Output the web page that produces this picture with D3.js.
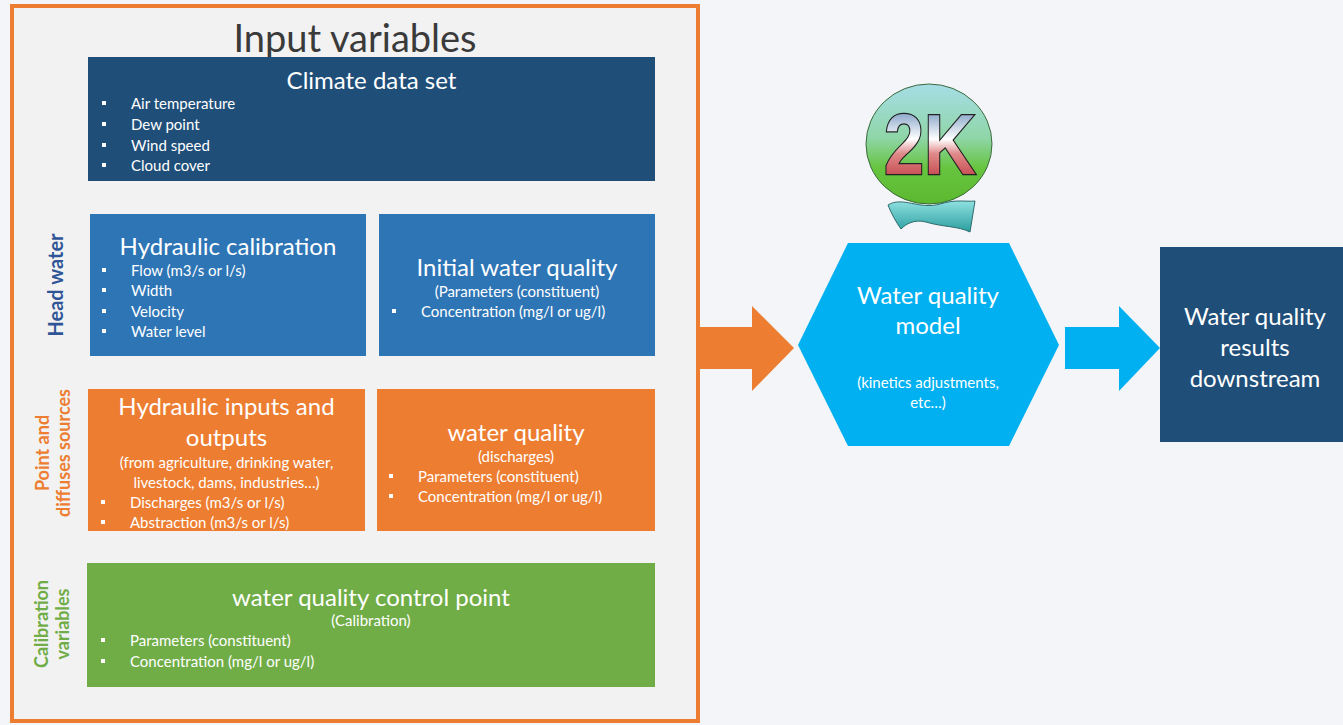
<!DOCTYPE html>
<html>
<head>
<meta charset="utf-8">
<script src="https://d3js.org/d3.v7.min.js"></script>
<style>
  body { margin: 0; background: #f3f5f9; }
  svg { display: block; font-family: Lato, "Open Sans", sans-serif; }
</style>
</head>
<body>
<div id="viz"></div>
<script>
// ---- text content of the diagram ----
const mainTitle = "Input variables";
const climateTitle = ["Climate data set"];
const climateItems = ["Air temperature", "Dew point", "Wind speed", "Cloud cover"];
const hydCalTitle = ["Hydraulic calibration"];
const hydCalItems = ["Flow (m3/s or l/s)", "Width", "Velocity", "Water level"];
const initWqTitle = ["Initial water quality"];
const initWqSub = ["(Parameters (constituent)"];
const initWqItems = ["Concentration (mg/l or ug/l)"];
const hydInTitle = ["Hydraulic inputs and", "outputs"];
const hydInSub = ["(from agriculture, drinking water,", "livestock, dams, industries…)"];
const hydInItems = ["Discharges (m3/s or l/s)", "Abstraction (m3/s or l/s)"];
const dischTitle = ["water quality"];
const dischSub = ["(discharges)"];
const dischItems = ["Parameters (constituent)", "Concentration (mg/l or ug/l)"];
const ctrlTitle = ["water quality control point"];
const ctrlSub = ["(Calibration)"];
const ctrlItems = ["Parameters (constituent)", "Concentration (mg/l or ug/l)"];
const modelTitle = ["Water quality", "model"];
const modelSub = ["(kinetics adjustments,", "etc…)"];
const resultTitle = ["Water quality", "results", "downstream"];
const sideLabels = [["Head water"], ["Point and", "diffuses sources"], ["Calibration", "variables"]];

const W = 1343, H = 725;
const svg = d3.select('#viz').append('svg')
  .attr('width', W).attr('height', H);

// background
svg.append('rect').attr('width', W).attr('height', H).attr('fill', '#f3f5f9');

// outer frame
svg.append('rect')
  .attr('x', 12).attr('y', 6).attr('width', 686).attr('height', 715)
  .attr('fill', '#f2f2f2').attr('stroke', '#ed7d31').attr('stroke-width', 4);

svg.append('text')
  .attr('x', 355).attr('y', 37)
  .attr('text-anchor', 'middle').attr('dominant-baseline', 'central')
  .attr('fill', '#3a3a3a').style('font-size', '38px')
  .text(mainTitle);

// box layout: [x0, y0, x1, y1], fill, rows
function drawBox(b) {
  let g = svg.append('g');
  g.append('rect')
    .attr('x', b.x0).attr('y', b.y0)
    .attr('width', b.x1 - b.x0).attr('height', b.y1 - b.y0)
    .attr('fill', b.fill);
  let cx = (b.x0 + b.x1) / 2;
  b.title.forEach((t, i) => {
    g.append('text').attr('x', cx).attr('y', b.ty[i])
      .attr('text-anchor', 'middle').attr('dominant-baseline', 'central')
      .attr('fill', '#fff').style('font-size', '24px').text(t);
  });
  (b.sub || []).forEach((t, i) => {
    g.append('text').attr('x', cx).attr('y', b.sy[i])
      .attr('text-anchor', 'middle').attr('dominant-baseline', 'central')
      .attr('fill', '#fff').style('font-size', '15px').text(t);
  });
  (b.items || []).forEach((t, i) => {
    g.append('rect').attr('x', b.bx - 2).attr('y', b.iy[i] - 2).attr('width', 4).attr('height', 4).attr('fill', '#fff');
    g.append('text').attr('x', b.bx + 27).attr('y', b.iy[i])
      .attr('dominant-baseline', 'central')
      .attr('fill', '#fff').style('font-size', '15px').text(t);
  });
}

drawBox({x0: 88, y0: 57, x1: 655, y1: 181, fill: '#1f4e79',
  title: climateTitle, ty: [79], items: climateItems, bx: 104, iy: [103, 124, 145, 165]});
drawBox({x0: 90, y0: 214, x1: 366, y1: 356, fill: '#2e75b6',
  title: hydCalTitle, ty: [245], items: hydCalItems, bx: 104, iy: [270, 290, 311, 331]});
drawBox({x0: 379, y0: 214, x1: 655, y1: 356, fill: '#2e75b6',
  title: initWqTitle, ty: [266], sub: initWqSub, sy: [291], items: initWqItems, bx: 394, iy: [311]});
drawBox({x0: 88, y0: 389, x1: 365, y1: 531, fill: '#ed7d31',
  title: hydInTitle, ty: [405, 436], sub: hydInSub, sy: [462, 482], items: hydInItems, bx: 103, iy: [502, 522]});
drawBox({x0: 377, y0: 389, x1: 655, y1: 531, fill: '#ed7d31',
  title: dischTitle, ty: [431], sub: dischSub, sy: [456], items: dischItems, bx: 391, iy: [476, 496]});
drawBox({x0: 87, y0: 563, x1: 655, y1: 687, fill: '#70ad47',
  title: ctrlTitle, ty: [596], sub: ctrlSub, sy: [620], items: ctrlItems, bx: 103, iy: [640, 661]});

// rotated side labels
const sideStyle = [
  {cy: 285, x: [55], color: '#2f5597', size: 20},
  {cy: 453, x: [42, 63], color: '#ed7d31', size: 18},
  {cy: 624, x: [41, 62], color: '#70ad47', size: 18}
];
sideLabels.forEach((lines, i) => {
  let s = sideStyle[i];
  lines.forEach((t, j) => {
    svg.append('text')
      .attr('transform', `translate(${s.x[j]},${s.cy}) rotate(-90)`)
      .attr('text-anchor', 'middle').attr('dominant-baseline', 'central')
      .attr('fill', s.color).style('font-size', s.size + 'px').style('font-weight', 'bold')
      .text(t);
  });
});

const line = d3.line();

// orange arrow into the model
svg.append('path')
  .attr('d', line([[698, 327], [752, 327], [752, 306], [794, 348], [752, 391], [752, 369], [698, 369]]) + 'Z')
  .attr('fill', '#ed7d31');

// model hexagon
svg.append('path')
  .attr('d', line([[798, 345], [848, 243], [1009, 243], [1059, 345], [1009, 446], [848, 446]]) + 'Z')
  .attr('fill', '#00b0f0');
modelTitle.forEach((t, i) => {
  svg.append('text').attr('x', 928).attr('y', [294, 324][i])
    .attr('text-anchor', 'middle').attr('dominant-baseline', 'central')
    .attr('fill', '#fff').style('font-size', '24px').text(t);
});
modelSub.forEach((t, i) => {
  svg.append('text').attr('x', 928).attr('y', [382, 402][i])
    .attr('text-anchor', 'middle').attr('dominant-baseline', 'central')
    .attr('fill', '#fff').style('font-size', '15px').text(t);
});

// blue arrow out
svg.append('path')
  .attr('d', line([[1065, 327], [1119, 327], [1119, 306], [1160, 348], [1119, 391], [1119, 369], [1065, 369]]) + 'Z')
  .attr('fill', '#00b0f0');

// results box
svg.append('rect').attr('x', 1160).attr('y', 247).attr('width', 183).attr('height', 195)
  .attr('fill', '#1f4e79');
resultTitle.forEach((t, i) => {
  svg.append('text').attr('x', 1255).attr('y', [315, 346, 377][i])
    .attr('text-anchor', 'middle').attr('dominant-baseline', 'central')
    .attr('fill', '#fff').style('font-size', '24px').text(t);
});

// Q2K logo
const defs = svg.append('defs');
let cg = defs.append('linearGradient').attr('id', 'qball').attr('x1', 0).attr('y1', 0).attr('x2', 0).attr('y2', 1);
cg.append('stop').attr('offset', '0%').attr('stop-color', '#a6dde6');
cg.append('stop').attr('offset', '45%').attr('stop-color', '#8fd6a8');
cg.append('stop').attr('offset', '70%').attr('stop-color', '#66c43f');
cg.append('stop').attr('offset', '100%').attr('stop-color', '#5cb82e');
let kg = defs.append('linearGradient').attr('id', 'q2k').attr('x1', 0).attr('y1', 0).attr('x2', 0).attr('y2', 1);
kg.append('stop').attr('offset', '0%').attr('stop-color', '#3f6fa6');
kg.append('stop').attr('offset', '45%').attr('stop-color', '#ffffff');
kg.append('stop').attr('offset', '60%').attr('stop-color', '#e08a8a');
kg.append('stop').attr('offset', '100%').attr('stop-color', '#b4222a');
let tg = defs.append('linearGradient').attr('id', 'qtail').attr('x1', 0).attr('y1', 0).attr('x2', 0).attr('y2', 1);
tg.append('stop').attr('offset', '0%').attr('stop-color', '#8fe0e0');
tg.append('stop').attr('offset', '100%').attr('stop-color', '#2b9ea0');

svg.append('ellipse').attr('cx', 929).attr('cy', 144).attr('rx', 63).attr('ry', 60)
  .attr('fill', 'url(#qball)').attr('stroke', '#3c6a3c').attr('stroke-width', 1);
svg.append('path')
  .attr('d', 'M888,205 C902,196 920,210 940,204 C956,199 966,202 975,201 L970,232 C958,226 942,227 926,222 C914,219 906,224 901,229 C896,222 891,213 888,205 Z')
  .attr('fill', 'url(#qtail)').attr('stroke', '#2c6b6b').attr('stroke-width', 1);
svg.append('text').attr('x', 930).attr('y', 144)
  .attr('text-anchor', 'middle').attr('dominant-baseline', 'central')
  .attr('textLength', 92).attr('lengthAdjust', 'spacingAndGlyphs')
  .style('font-family', '"Liberation Sans", "DejaVu Sans", sans-serif')
  .style('font-size', '86px').style('font-weight', '900')
  .attr('fill', 'url(#q2k)').attr('stroke', '#222').attr('stroke-width', 2.5)
  .attr('paint-order', 'stroke')
  .text('2K');
</script>
</body>
</html>
